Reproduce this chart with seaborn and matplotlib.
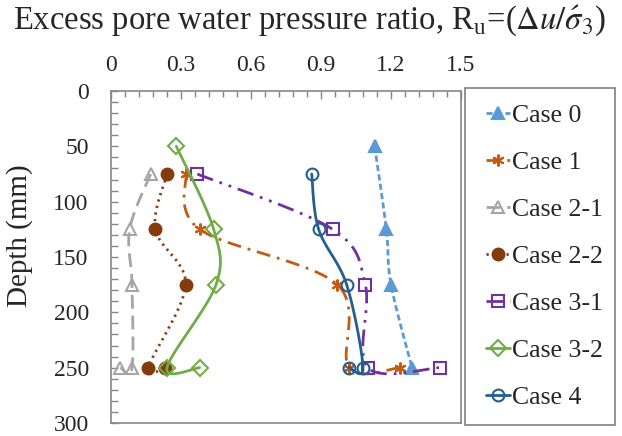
import numpy as np
import pandas as pd
import seaborn as sns
import matplotlib
matplotlib.use("Agg")
import matplotlib.pyplot as plt
from matplotlib.lines import Line2D
from matplotlib.patches import Rectangle
from matplotlib.ticker import MultipleLocator

# values (depth in mm, Ru)
cases = ["Case 0", "Case 1", "Case 2-1", "Case 2-2", "Case 3-1", "Case 3-2", "Case 4"]
depth_c0 = [50, 125, 175, 250]
ru_c0 = [1.13, 1.18, 1.20, 1.29]
depth_c1 = [75, 125, 175, 250, 250]
ru_c1 = [0.32, 0.38, 0.97, 1.02, 1.24]
depth_c21 = [75, 125, 175, 250, 250]
ru_c21 = [0.17, 0.08, 0.09, 0.09, 0.04]
depth_c22 = [75, 125, 175, 250, 250]
ru_c22 = [0.24, 0.19, 0.32, 0.16, 0.23]
depth_c31 = [75, 125, 175, 250, 250]
ru_c31 = [0.37, 0.95, 1.09, 1.10, 1.41]
depth_c32 = [50, 125, 175, 250, 250]
ru_c32 = [0.28, 0.44, 0.45, 0.24, 0.38]
depth_c4 = [75, 125, 175, 250, 250]
ru_c4 = [0.86, 0.89, 1.01, 1.08, 1.02]

series = {
    "Case 0": (ru_c0, depth_c0),
    "Case 1": (ru_c1, depth_c1),
    "Case 2-1": (ru_c21, depth_c21),
    "Case 2-2": (ru_c22, depth_c22),
    "Case 3-1": (ru_c31, depth_c31),
    "Case 3-2": (ru_c32, depth_c32),
    "Case 4": (ru_c4, depth_c4),
}

styles = {
    "Case 0": dict(color="#5B9BD5", marker="^", mfc="#5B9BD5", ls=(0, (2.2, 1.2))),
    "Case 1": dict(color="#C55A11", marker=(6, 2, 0), mfc="#C55A11", ls=(0, (5, 2.5, 1, 2.5))),
    "Case 2-1": dict(color="#A5A5A5", marker="^", mfc="none", ls=(0, (5, 2.5))),
    "Case 2-2": dict(color="#843C0C", marker="o", mfc="#843C0C", ls=(0, (0.8, 1.6))),
    "Case 3-1": dict(color="#7030A0", marker="s", mfc="none", ls=(0, (6, 2.5, 1, 2.5, 1, 2.5))),
    "Case 3-2": dict(color="#70AD47", marker="D", mfc="none", ls="-"),
    "Case 4": dict(color="#255E91", marker="o", mfc="none", ls="-"),
}


def smooth(x, y, n=30):
    # Excel-like smoothed line (Catmull-Rom as Bezier), done in pixel-ish space
    sx, sy = 350 / 1.5, 332 / 300
    p = np.column_stack([np.asarray(x) * sx, np.asarray(y) * sy])
    pp = np.vstack([p[0], p, p[-1]])
    out = [p[0]]
    t = np.linspace(0, 1, n)[1:, None]
    for i in range(len(p) - 1):
        b0 = pp[i + 1]
        b3 = pp[i + 2]
        b1 = b0 + (pp[i + 2] - pp[i]) / 6
        b2 = b3 - (pp[i + 3] - pp[i + 1]) / 6
        seg = (1 - t) ** 3 * b0 + 3 * (1 - t) ** 2 * t * b1 + 3 * (1 - t) * t ** 2 * b2 + t ** 3 * b3
        out.extend(seg)
    out = np.array(out)
    return out[:, 0] / sx, out[:, 1] / sy


sns.set_style("white")
plt.rcParams["font.family"] = ["Liberation Serif", "DejaVu Serif"]
plt.rcParams["mathtext.fontset"] = "stix"

fig = plt.figure(figsize=(6.22, 4.36), dpi=100)
ax = fig.add_axes([111 / 622, 1 - 423 / 436, 350 / 622, 332 / 436])

for name in cases:
    x, y = series[name]
    st = styles[name]
    sx, sy = smooth(x, y)
    df_line = pd.DataFrame({"ru": sx, "depth": sy})
    sns.lineplot(data=df_line, x="ru", y="depth", sort=False, estimator=None,
                 color=st["color"], linestyle=st["ls"], linewidth=2.0, ax=ax)
    ax.plot(x, y, linestyle="none", marker=st["marker"], markersize=8.5,
            markerfacecolor=st["mfc"], markeredgecolor=st["color"], markeredgewidth=1.5)

ax.set_xlim(0, 1.5)
ax.set_ylim(300, 0)
ax.xaxis.tick_top()
ax.xaxis.set_major_locator(MultipleLocator(0.3))
ax.xaxis.set_minor_locator(MultipleLocator(0.06))
ax.yaxis.set_major_locator(MultipleLocator(50))
ax.yaxis.set_minor_locator(MultipleLocator(10))
ax.set_xticks([0, 0.3, 0.6, 0.9, 1.2, 1.5])
ax.set_xticklabels(["0", "0.3", "0.6", "0.9", "1.2", "1.5"])
ax.tick_params(axis="x", which="both", direction="in", top=True, bottom=False,
               color="#868686", labelsize=17, pad=11)
ax.tick_params(axis="x", which="major", length=6, width=1)
ax.tick_params(axis="x", which="minor", length=4, width=1)
ax.tick_params(axis="y", which="both", direction="in", left=True, right=False,
               color="#868686", labelsize=17, pad=16)
ax.tick_params(axis="y", which="major", length=5, width=1)
ax.tick_params(axis="y", which="minor", length=5, width=1)
for sp in ax.spines.values():
    sp.set_color("#868686")
    sp.set_linewidth(1.2)
ax.set_xlabel("")
ax.set_ylabel("")
fig.text(20 / 622, 1 - 236 / 436, "Depth (mm)", rotation=90, ha="center", va="center", fontsize=21)

fig.text(0.497, 1 - 21 / 436,
         r"Excess pore water pressure ratio, R$_\mathregular{u}$=($\Delta u/\acute{\sigma}_3$)",
         ha="center", va="center", fontsize=23.5)

handles = [Line2D([], [], color=styles[c]["color"], linestyle=styles[c]["ls"], linewidth=2.0,
                  marker=styles[c]["marker"], markersize=8.5, markerfacecolor=styles[c]["mfc"],
                  markeredgecolor=styles[c]["color"], markeredgewidth=1.5) for c in cases]
fig.legend(handles, cases, loc="center left", bbox_to_anchor=(486 / 622, 1 - 256.5 / 436),
           frameon=False, fontsize=18.5, handlelength=0.95, handletextpad=0.08,
           labelspacing=0.93, borderpad=0, borderaxespad=0)
fig.add_artist(Rectangle((465 / 622, 1 - 425 / 436), 150 / 622, 337 / 436,
                         transform=fig.transFigure, fill=False, edgecolor="#7F7F7F", linewidth=1.2))

fig.savefig("out.png", dpi=100)
